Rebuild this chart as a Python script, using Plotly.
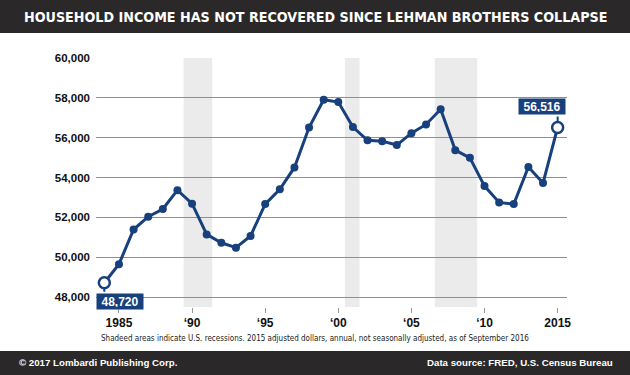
import plotly.graph_objects as go

# ---- data ----
years = list(range(1984, 2016))
income = [48720, 49650, 51390, 52035, 52420, 53365, 52685, 51145, 50725, 50480,
          51065, 52665, 53410, 54505, 56510, 57905, 57790, 56530, 55870, 55825,
          55630, 56225, 56665, 57425, 55375, 54990, 53570, 52750, 52665, 54525,
          53720, 56516]
rec_start = [1989.42, 2000.45, 2006.6]
rec_end = [1991.38, 2001.45, 2009.5]
x_tickvals = [1985, 1990, 1995, 2000, 2005, 2010, 2015]
x_ticktext = ["1985", "\u201890", "\u201895", "\u201800", "\u201805", "\u201810", "2015"]
y_tickvals = [48000, 50000, 52000, 54000, 56000, 58000, 60000]

title = "HOUSEHOLD INCOME HAS NOT RECOVERED SINCE LEHMAN BROTHERS COLLAPSE"
note = ("Shadeed areas indicate U.S. recessions. 2015 adjusted dollars, annual, "
        "not seasonally adjusted, as of September 2016")
footer_left = "\u00a9 2017 Lombardi Publishing Corp."
footer_right = "Data source: FRED, U.S. Census Bureau"

# ---- layout geometry (pixels) ----
W, H = 630, 375
L, R, T, B = 96, 63.3, 58.3, 68.3
PW, PH = W - L - R, H - T - B

def fx(px):
    return (px - L) / PW

def fy(py):
    return (H - B - py) / PH

NAVY = "#17407d"
DARK = "#2a2829"
NARROW = "Liberation Sans Narrow, DejaVu Sans Condensed, Arial Narrow, sans-serif"
SANS = "Liberation Sans, Arial, Helvetica, sans-serif"

fig = go.Figure()
fig.add_trace(go.Scatter(
    x=years, y=income, mode="lines+markers",
    line=dict(color=NAVY, width=3),
    marker=dict(color=NAVY, size=8),
    hoverinfo="skip", showlegend=False))
fig.add_trace(go.Scatter(
    x=[years[0], years[-1]], y=[income[0], income[-1]], mode="markers",
    marker=dict(color="white", size=11, line=dict(color=NAVY, width=2.5)),
    hoverinfo="skip", showlegend=False))

shapes = []
for s, e in zip(rec_start, rec_end):
    shapes.append(dict(type="rect", xref="x", yref="paper", x0=s, x1=e, y0=0, y1=1,
                       fillcolor="#ebebeb", line=dict(width=0), layer="below"))
# header and footer bars
shapes.append(dict(type="rect", xref="paper", yref="paper", x0=fx(-2), x1=fx(W + 2),
                   y0=fy(33.3), y1=fy(-2), fillcolor=DARK, line=dict(width=0), layer="above"))
shapes.append(dict(type="rect", xref="paper", yref="paper", x0=fx(-2), x1=fx(W + 2),
                   y0=fy(H + 2), y1=fy(350.5), fillcolor=DARK, line=dict(width=0), layer="above"))

annotations = [
    dict(text=title, xref="paper", yref="paper", x=fx(315), y=fy(17), xanchor="center",
         yanchor="middle", showarrow=False,
         font=dict(family=NARROW, size=14.2, color="white", weight="bold")),
    dict(text=note, xref="paper", yref="paper", x=fx(315), y=fy(338), xanchor="center",
         yanchor="middle", showarrow=False,
         font=dict(family=NARROW, size=8, color="#222222")),
    dict(text=footer_left, xref="paper", yref="paper", x=fx(17), y=fy(362.5), xanchor="left",
         yanchor="middle", showarrow=False,
         font=dict(family=SANS, size=9.7, color="white", weight="bold")),
    dict(text=footer_right, xref="paper", yref="paper", x=fx(615), y=fy(362.5), xanchor="right",
         yanchor="middle", showarrow=False,
         font=dict(family=SANS, size=9.7, color="white", weight="bold")),
    # stems
    dict(text=" ", x=years[-1], y=income[-1], xref="x", yref="y", showarrow=True,
         arrowhead=0, arrowwidth=2, arrowcolor=NAVY, ax=0, ay=-14, standoff=5,
         font=dict(size=2)),
    dict(text=" ", x=years[0], y=income[0], xref="x", yref="y", showarrow=True,
         arrowhead=0, arrowwidth=2, arrowcolor=NAVY, ax=0, ay=12, standoff=5,
         font=dict(size=2)),
    # value boxes
    dict(text=f"{income[-1]:,}", x=years[-1], y=income[-1], xref="x", yref="y",
         showarrow=False, xanchor="right", yanchor="bottom", xshift=8, yshift=12,
         bgcolor=NAVY, borderpad=2, width=42, height=11,
         font=dict(family=SANS, size=12, color="white", weight="bold")),
    dict(text=f"{income[0]:,}", x=years[0], y=income[0], xref="x", yref="y",
         showarrow=False, xanchor="left", yanchor="top", xshift=-8, yshift=-10,
         bgcolor=NAVY, borderpad=2, width=42, height=11,
         font=dict(family=SANS, size=12, color="white", weight="bold")),
]

fig.update_layout(
    width=W, height=H, autosize=False,
    margin=dict(l=L, r=R, t=T, b=B, pad=0),
    paper_bgcolor="white", plot_bgcolor="white",
    shapes=shapes, annotations=annotations,
    xaxis=dict(range=[1983.43, 2015.64], tickvals=x_tickvals, ticktext=x_ticktext,
               showgrid=False, zeroline=False, showline=False,
               ticks="outside", ticklen=5, tickwidth=1, tickcolor="#999999",
               tickfont=dict(family=SANS, size=12, color="#111111", weight="bold"),
               fixedrange=True),
    yaxis=dict(range=[47500, 60000], tickvals=y_tickvals, tickformat=",",
               showgrid=True, gridcolor="#8f8f8f", gridwidth=1,
               zeroline=False, showline=False, ticks="", ticklabelstandoff=5,
               tickfont=dict(family=SANS, size=11.5, color="#111111", weight="bold"),
               fixedrange=True),
)

fig.write_html("out.html", config={"displayModeBar": False},
               post_script="document.body.style.margin='0';document.body.style.overflow='hidden';")
